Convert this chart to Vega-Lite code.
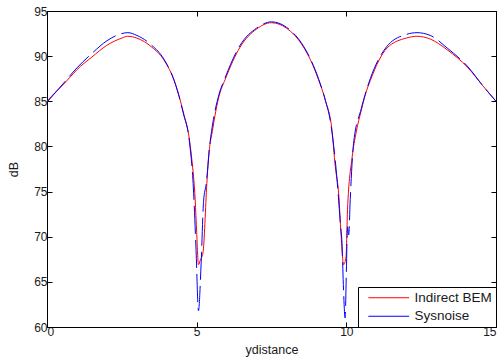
{
  "$schema": "https://vega.github.io/schema/vega-lite/v6.json",
  "autosize": "none",
  "width": 449,
  "height": 316,
  "padding": {"left": 47, "top": 11, "right": 6, "bottom": 36},
  "config": {
    "view": {"stroke": "#000000", "strokeWidth": 1},
    "font": "Liberation Sans",
    "axis": {"grid": false, "domainColor": "#000000", "tickColor": "#000000", "labelColor": "#1a1a1a", "labelFontSize": 12, "titleFontSize": 12.5, "titleFontWeight": "normal", "titleColor": "#1a1a1a", "labelFont": "Liberation Sans", "titleFont": "Liberation Sans"}
  },
  "data": {"values": [
    {"x": 0, "v": 85.0, "s": "Indirect BEM"},
    {"x": 0.25, "v": 85.9, "s": "Indirect BEM"},
    {"x": 0.5, "v": 86.7, "s": "Indirect BEM"},
    {"x": 0.75, "v": 87.6, "s": "Indirect BEM"},
    {"x": 1.0, "v": 88.5, "s": "Indirect BEM"},
    {"x": 1.5, "v": 89.9, "s": "Indirect BEM"},
    {"x": 2.0, "v": 91.2, "s": "Indirect BEM"},
    {"x": 2.5, "v": 92.0, "s": "Indirect BEM"},
    {"x": 2.7, "v": 92.2, "s": "Indirect BEM"},
    {"x": 3.0, "v": 92.0, "s": "Indirect BEM"},
    {"x": 3.5, "v": 91.0, "s": "Indirect BEM"},
    {"x": 3.9, "v": 89.6, "s": "Indirect BEM"},
    {"x": 4.28, "v": 87.0, "s": "Indirect BEM"},
    {"x": 4.56, "v": 83.7, "s": "Indirect BEM"},
    {"x": 4.76, "v": 80.7, "s": "Indirect BEM"},
    {"x": 4.84, "v": 78.5, "s": "Indirect BEM"},
    {"x": 4.95, "v": 74.1, "s": "Indirect BEM"},
    {"x": 5.0, "v": 70.5, "s": "Indirect BEM"},
    {"x": 5.06, "v": 66.9, "s": "Indirect BEM"},
    {"x": 5.12, "v": 67.4, "s": "Indirect BEM"},
    {"x": 5.21, "v": 68.2, "s": "Indirect BEM"},
    {"x": 5.34, "v": 75.9, "s": "Indirect BEM"},
    {"x": 5.39, "v": 78.5, "s": "Indirect BEM"},
    {"x": 5.53, "v": 81.8, "s": "Indirect BEM"},
    {"x": 5.75, "v": 85.6, "s": "Indirect BEM"},
    {"x": 5.95, "v": 87.4, "s": "Indirect BEM"},
    {"x": 6.45, "v": 91.0, "s": "Indirect BEM"},
    {"x": 7.0, "v": 93.0, "s": "Indirect BEM"},
    {"x": 7.5, "v": 93.7, "s": "Indirect BEM"},
    {"x": 8.0, "v": 93.1, "s": "Indirect BEM"},
    {"x": 8.57, "v": 91.0, "s": "Indirect BEM"},
    {"x": 8.8, "v": 89.6, "s": "Indirect BEM"},
    {"x": 9.07, "v": 87.4, "s": "Indirect BEM"},
    {"x": 9.3, "v": 85.1, "s": "Indirect BEM"},
    {"x": 9.52, "v": 81.8, "s": "Indirect BEM"},
    {"x": 9.63, "v": 77.8, "s": "Indirect BEM"},
    {"x": 9.75, "v": 74.5, "s": "Indirect BEM"},
    {"x": 9.82, "v": 70.4, "s": "Indirect BEM"},
    {"x": 9.91, "v": 66.9, "s": "Indirect BEM"},
    {"x": 9.99, "v": 67.8, "s": "Indirect BEM"},
    {"x": 10.04, "v": 73.0, "s": "Indirect BEM"},
    {"x": 10.19, "v": 78.7, "s": "Indirect BEM"},
    {"x": 10.33, "v": 81.6, "s": "Indirect BEM"},
    {"x": 10.5, "v": 84.0, "s": "Indirect BEM"},
    {"x": 10.64, "v": 85.8, "s": "Indirect BEM"},
    {"x": 10.8, "v": 87.3, "s": "Indirect BEM"},
    {"x": 11.36, "v": 90.9, "s": "Indirect BEM"},
    {"x": 12.0, "v": 92.0, "s": "Indirect BEM"},
    {"x": 12.36, "v": 92.2, "s": "Indirect BEM"},
    {"x": 12.8, "v": 91.9, "s": "Indirect BEM"},
    {"x": 13.37, "v": 90.7, "s": "Indirect BEM"},
    {"x": 14.04, "v": 88.8, "s": "Indirect BEM"},
    {"x": 14.59, "v": 86.6, "s": "Indirect BEM"},
    {"x": 15.0, "v": 85.0, "s": "Indirect BEM"},
    {"x": 0, "v": 84.9, "s": "Sysnoise"},
    {"x": 0.5, "v": 86.8, "s": "Sysnoise"},
    {"x": 1.0, "v": 88.7, "s": "Sysnoise"},
    {"x": 1.5, "v": 90.3, "s": "Sysnoise"},
    {"x": 2.0, "v": 91.7, "s": "Sysnoise"},
    {"x": 2.5, "v": 92.5, "s": "Sysnoise"},
    {"x": 2.7, "v": 92.6, "s": "Sysnoise"},
    {"x": 3.0, "v": 92.3, "s": "Sysnoise"},
    {"x": 3.5, "v": 91.2, "s": "Sysnoise"},
    {"x": 3.9, "v": 89.7, "s": "Sysnoise"},
    {"x": 4.28, "v": 87.0, "s": "Sysnoise"},
    {"x": 4.56, "v": 83.6, "s": "Sysnoise"},
    {"x": 4.76, "v": 80.5, "s": "Sysnoise"},
    {"x": 4.89, "v": 75.4, "s": "Sysnoise"},
    {"x": 4.98, "v": 68.5, "s": "Sysnoise"},
    {"x": 5.06, "v": 61.8, "s": "Sysnoise"},
    {"x": 5.15, "v": 67.1, "s": "Sysnoise"},
    {"x": 5.23, "v": 73.9, "s": "Sysnoise"},
    {"x": 5.32, "v": 75.9, "s": "Sysnoise"},
    {"x": 5.45, "v": 80.5, "s": "Sysnoise"},
    {"x": 5.54, "v": 82.6, "s": "Sysnoise"},
    {"x": 5.75, "v": 85.8, "s": "Sysnoise"},
    {"x": 5.95, "v": 87.6, "s": "Sysnoise"},
    {"x": 6.45, "v": 91.2, "s": "Sysnoise"},
    {"x": 7.0, "v": 93.1, "s": "Sysnoise"},
    {"x": 7.5, "v": 93.8, "s": "Sysnoise"},
    {"x": 8.0, "v": 93.2, "s": "Sysnoise"},
    {"x": 8.57, "v": 91.1, "s": "Sysnoise"},
    {"x": 8.8, "v": 89.7, "s": "Sysnoise"},
    {"x": 9.07, "v": 87.5, "s": "Sysnoise"},
    {"x": 9.3, "v": 85.1, "s": "Sysnoise"},
    {"x": 9.46, "v": 82.9, "s": "Sysnoise"},
    {"x": 9.69, "v": 76.3, "s": "Sysnoise"},
    {"x": 9.8, "v": 71.5, "s": "Sysnoise"},
    {"x": 9.86, "v": 68.9, "s": "Sysnoise"},
    {"x": 9.9, "v": 64.7, "s": "Sysnoise"},
    {"x": 9.96, "v": 61.0, "s": "Sysnoise"},
    {"x": 10.0, "v": 66.0, "s": "Sysnoise"},
    {"x": 10.04, "v": 71.1, "s": "Sysnoise"},
    {"x": 10.08, "v": 70.2, "s": "Sysnoise"},
    {"x": 10.13, "v": 74.1, "s": "Sysnoise"},
    {"x": 10.24, "v": 80.3, "s": "Sysnoise"},
    {"x": 10.5, "v": 84.2, "s": "Sysnoise"},
    {"x": 10.8, "v": 87.5, "s": "Sysnoise"},
    {"x": 11.36, "v": 91.1, "s": "Sysnoise"},
    {"x": 12.0, "v": 92.4, "s": "Sysnoise"},
    {"x": 12.36, "v": 92.6, "s": "Sysnoise"},
    {"x": 12.8, "v": 92.3, "s": "Sysnoise"},
    {"x": 13.37, "v": 90.9, "s": "Sysnoise"},
    {"x": 14.04, "v": 88.9, "s": "Sysnoise"},
    {"x": 14.59, "v": 86.6, "s": "Sysnoise"},
    {"x": 15.0, "v": 85.0, "s": "Sysnoise"}
  ]},
  "layer": [
    {
      "encoding": {
        "x": {"field": "x", "type": "quantitative", "scale": {"domain": [0, 15], "nice": false, "zero": false},
              "axis": {"orient": "bottom", "values": [0, 5, 10, 15], "title": "ydistance", "tickSize": -5, "labelPadding": 4, "titlePadding": 6}},
        "y": {"field": "v", "type": "quantitative", "scale": {"domain": [60, 95], "nice": false, "zero": false},
              "axis": {"orient": "left", "values": [60, 65, 70, 75, 80, 85, 90, 95], "title": "dB", "tickSize": -5, "labelPadding": 5, "titlePadding": 13}},
        "color": {"field": "s", "type": "nominal",
                  "scale": {"domain": ["Indirect BEM", "Sysnoise"], "range": ["#ff0000", "#0000ff"]},
                  "legend": {"title": null, "orient": "bottom-right", "offset": 0, "strokeColor": "#000000", "fillColor": "#ffffff",
                             "padding": 4, "symbolType": "M-5.1,0H5.1", "symbolSize": 64, "symbolStrokeWidth": 1, "symbolOffset": 20,
                             "labelFontSize": 13.5, "labelColor": "#1a1a1a", "labelFont": "Liberation Sans", "rowPadding": 3.5, "labelOffset": 19}},
        "order": {"field": "x", "type": "quantitative"}
      },
      "layer": [
        {
          "transform": [{"filter": "datum.s === 'Indirect BEM'"}],
          "mark": {"type": "line", "strokeWidth": 1, "interpolate": "monotone"}
        },
        {
          "transform": [{"filter": "datum.s === 'Sysnoise'"}],
          "mark": {"type": "line", "strokeWidth": 1, "interpolate": "monotone", "strokeDash": [28, 6]}
        }
      ]
    },
    {
      "mark": {"type": "line", "opacity": 0},
      "encoding": {
        "x": {"field": "x", "type": "quantitative", "axis": {"orient": "top", "values": [0, 5, 10, 15], "labels": false, "title": null, "tickSize": -5}},
        "y": {"field": "v", "type": "quantitative", "axis": {"orient": "right", "values": [60, 65, 70, 75, 80, 85, 90, 95], "labels": false, "title": null, "tickSize": -5}}
      }
    }
  ],
  "resolve": {"axis": {"x": "independent", "y": "independent"}}
}
